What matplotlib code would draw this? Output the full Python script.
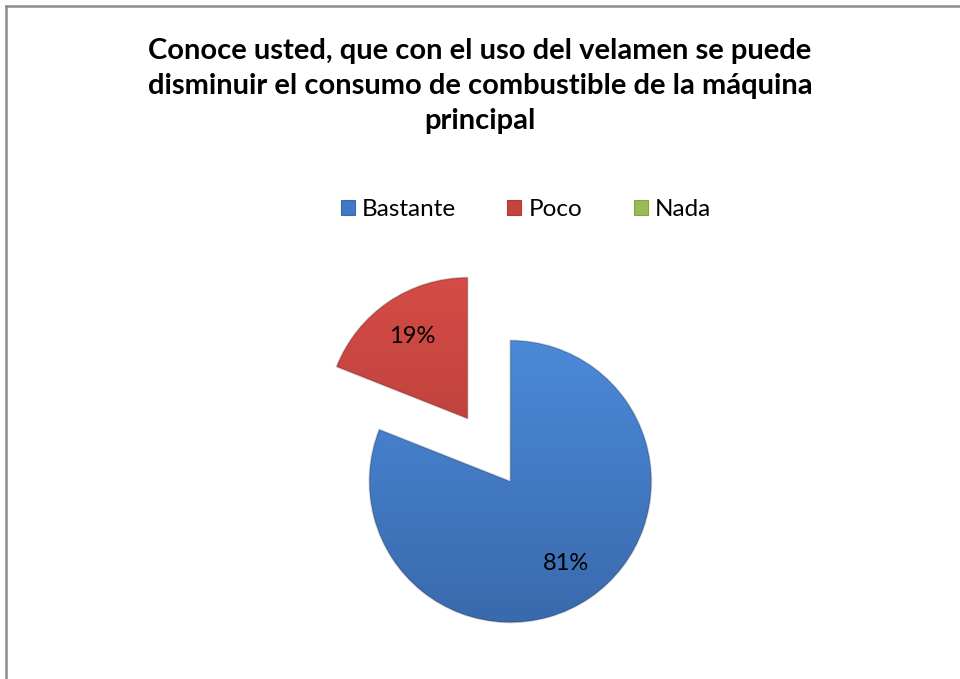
import matplotlib
matplotlib.use('Agg')
import matplotlib.pyplot as plt
import numpy as np
from matplotlib.colors import LinearSegmentedColormap
from matplotlib.patches import Rectangle
from matplotlib.lines import Line2D

# data
labels = ['Bastante', 'Poco', 'Nada']
values = [81, 19, 0]
title = 'Conoce usted, que con el uso del velamen se puede\ndisminuir el consumo de combustible de la máquina\nprincipal'

colors_top = ['#4b8ad9', '#d64c46', '#a5c85f']
colors_bot = ['#3a69ac', '#ac3a36', '#83a545']
colors_mid = ['#4279c4', '#c4433f', '#9bbb59']

plt.rcParams['font.family'] = ['Lato', 'DejaVu Sans']

fig = plt.figure(figsize=(9.6, 6.79), dpi=100)
ax = fig.add_axes([0, 0, 1, 1])

# everything in pixel units: radius 141px, explode 38px
wedges = ax.pie(values, colors=colors_mid, startangle=90, counterclock=False,
                radius=141, center=(489, 229), explode=[38, 38, 38],
                wedgeprops=dict(linewidth=0))[0]

# percentage labels
total = float(sum(values))
theta = 90.0
for w, v in zip(wedges, values):
    frac = v / total * 360.0
    if v > 0:
        tm = np.deg2rad(theta - frac / 2)
        cx, cy = w.center
        ax.text(cx + 0.70 * 141 * np.cos(tm), cy + 0.70 * 141 * np.sin(tm),
                '%d%%' % round(v / total * 100),
                ha='center', va='center', fontsize=17, color='black', zorder=5)
    theta -= frac

# vertical gradient fill inside each wedge
grad = np.linspace(0, 1, 256).reshape(-1, 1)
for w, v, ct, cb in zip(wedges, values, colors_top, colors_bot):
    if v == 0:
        w.set_visible(False)
        continue
    cmap = LinearSegmentedColormap.from_list('g', [ct, cb])
    cx, cy = w.center
    im = ax.imshow(grad, cmap=cmap, aspect='auto', origin='upper',
                   extent=(cx - 145, cx + 145, cy - 145, cy + 145), zorder=2)
    im.set_clip_path(w)
    w.set_edgecolor((0, 0, 0, 0.18))
    w.set_linewidth(1.2)
    w.set_zorder(3)
    w.set_facecolor('none')

ax.set_xlim(0, 960)
ax.set_ylim(0, 679)
ax.set_aspect('auto')
ax.axis('off')

fig.text(0.5, 1 - 86 / 679, title, ha='center', va='center', fontsize=21,
         fontweight='bold', linespacing=1.45)

handles = [Rectangle((0, 0), 1, 1, facecolor=c, edgecolor=e, linewidth=0.8)
           for c, e in zip(colors_mid, colors_bot)]
fig.legend(handles, labels, loc='center', bbox_to_anchor=(526 / 960, 1 - 210 / 679),
           ncol=3, frameon=False, fontsize=17.5, handlelength=0.58, handleheight=0.58,
           handletextpad=0.3, columnspacing=2.1)

# chart area frame (only left and top visible)
fig.add_artist(Line2D([6 / 960, 6 / 960], [0, 1 - 6 / 679], color='#8c8c8c', linewidth=1.8))
fig.add_artist(Line2D([6 / 960, 1], [1 - 6 / 679, 1 - 6 / 679], color='#8c8c8c', linewidth=1.8))

fig.savefig('out.png', dpi=100)
